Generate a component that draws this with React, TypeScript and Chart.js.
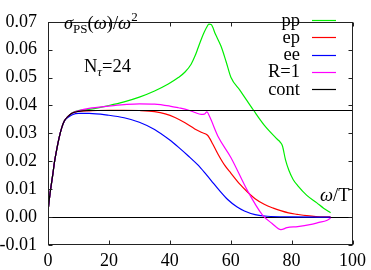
import React, { useEffect, useRef } from 'react';
import { Chart, registerables } from 'chart.js';

Chart.register(...registerables);

const FONT = "'Liberation Serif', 'Times New Roman', serif";

// common low-omega rise (all curves coincide here)
const riseOmega = [0.1, 0.5, 1, 1.6, 2.1, 3, 3.7, 4.5, 5.4];
const riseValues = [0.003, 0.007, 0.011, 0.0155, 0.0195, 0.025, 0.0287, 0.032, 0.0345];

const ppOmega = [6.5, 8, 10, 13.5, 20, 25, 30, 35, 39.5, 42.8, 45, 47, 48.3, 49.3, 50.5, 51.4, 52.3, 52.8, 53.6, 55, 56.8, 58.5, 60.1, 63, 65, 67.5, 71, 75.3, 76.3, 77, 78, 79.1, 80.5, 82, 85, 88.3, 90.5, 92.8];
const ppValues = [0.036, 0.0374, 0.0382, 0.0386, 0.04, 0.0413, 0.043, 0.0452, 0.0477, 0.05, 0.052, 0.0548, 0.0578, 0.0607, 0.0642, 0.0665, 0.0684, 0.0692, 0.069, 0.0655, 0.0613, 0.0557, 0.05, 0.0455, 0.0423, 0.0383, 0.033, 0.0279, 0.0268, 0.0255, 0.0205, 0.0168, 0.0135, 0.0113, 0.0078, 0.0051, 0.0032, 0.0016];

const epOmega = [6.5, 8, 10, 13.5, 20, 25, 30, 35, 38.5, 41.7, 45, 48.2, 50.5, 52.3, 53, 54.1, 55.8, 58, 60.1, 63, 65.5, 68, 71, 74, 76.4, 79, 81.8, 85, 88, 92.8];
const epValues = [0.036, 0.0373, 0.0379, 0.0381, 0.0383, 0.0383, 0.0382, 0.0378, 0.037, 0.0357, 0.0338, 0.0316, 0.0303, 0.0294, 0.0284, 0.0262, 0.0226, 0.0186, 0.0157, 0.0118, 0.009, 0.0066, 0.0046, 0.0032, 0.0023, 0.0015, 0.001, 0.0005, 0.0002, 0.0001];

const eeOmega = [6.5, 8, 10, 13.5, 20, 25, 30, 35, 40, 43, 46, 49.3, 52, 53.6, 56, 59, 62, 64.5, 68, 72, 80, 92.8];
const eeValues = [0.0357, 0.0367, 0.0372, 0.0372, 0.0365, 0.0356, 0.034, 0.0314, 0.0276, 0.0249, 0.022, 0.0186, 0.0152, 0.0131, 0.0099, 0.0063, 0.0037, 0.0022, 0.0009, 0.0003, 0.0001, 0.0];

const r1Omega = [6.5, 8, 10, 13.5, 20, 25, 30, 35, 40, 42.8, 46, 48, 50.3, 51.3, 52.2, 53, 55.8, 60.1, 65.5, 70.4, 73.5, 76.5, 78.5, 82, 86, 89, 91.5, 92.8];
const r1Values = [0.036, 0.0373, 0.0381, 0.039, 0.0398, 0.0403, 0.0406, 0.0405, 0.0398, 0.0392, 0.0384, 0.0376, 0.0368, 0.0369, 0.0377, 0.0362, 0.029, 0.0213, 0.0095, 0.0008, -0.0022, -0.0045, -0.0038, -0.0034, -0.0027, -0.0019, -0.0012, -0.0004];

const contOmega = [6.5, 8, 10, 13.5, 20, 100];
const contValues = [0.036, 0.0373, 0.0379, 0.0382, 0.0382, 0.0382];

const seriesLabels = ['pp', 'ep', 'ee', 'R=1', 'cont'];
const seriesColors = ['#00ee00', '#ff0000', '#0000ff', '#ff00ff', '#000000'];

const xTicks = [0, 20, 40, 60, 80, 100];
const yTicks = [-0.01, 0, 0.01, 0.02, 0.03, 0.04, 0.05, 0.06, 0.07];

function pts(om: number[], vals: number[]) {
  const xs = riseOmega.concat(om);
  const ys = riseValues.concat(vals);
  return xs.map((x, i) => ({ x, y: ys[i] }));
}

type Run = { t: string; size?: number; italic?: boolean; dy?: number };

function drawRuns(ctx: CanvasRenderingContext2D, x: number, base: number, runs: Run[]) {
  let cx = x;
  for (const r of runs) {
    const size = r.size ?? 18.5;
    ctx.font = `${r.italic ? 'italic ' : ''}${size}px ${FONT}`;
    ctx.textAlign = 'left';
    ctx.textBaseline = 'alphabetic';
    ctx.fillText(r.t, cx, base + (r.dy ?? 0));
    cx += ctx.measureText(r.t).width;
  }
}

const overlay = {
  id: 'overlay',
  beforeDatasetsDraw(chart: any) {
    const { ctx, chartArea, scales } = chart;
    const y0 = Math.round(scales.y.getPixelForValue(0)) + 0.5;
    ctx.save();
    ctx.strokeStyle = '#000';
    ctx.lineWidth = 1;
    ctx.beginPath();
    ctx.moveTo(chartArea.left, y0);
    ctx.lineTo(chartArea.right, y0);
    ctx.stroke();
    ctx.restore();
  },
  afterDraw(chart: any) {
    const { ctx, chartArea, scales } = chart;
    const L = Math.round(chartArea.left) + 0.5;
    const R = Math.round(chartArea.right) - 0.5;
    const T = Math.round(chartArea.top) + 0.5;
    const B = Math.round(chartArea.bottom) - 0.5;
    ctx.save();
    ctx.strokeStyle = '#222';
    ctx.lineWidth = 1;
    ctx.strokeRect(L, T, R - L, B - T);
    ctx.beginPath();
    for (const v of xTicks) {
      const px = Math.round(scales.x.getPixelForValue(v)) + 0.5;
      ctx.moveTo(px, B); ctx.lineTo(px, B - 4);
      ctx.moveTo(px, T); ctx.lineTo(px, T + 4);
    }
    for (const v of yTicks) {
      const py = Math.round(scales.y.getPixelForValue(v)) + 0.5;
      ctx.moveTo(L, py); ctx.lineTo(L + 4, py);
      ctx.moveTo(R, py); ctx.lineTo(R - 4, py);
    }
    ctx.stroke();

    // legend
    ctx.fillStyle = '#000';
    seriesLabels.forEach((lab, i) => {
      const ly = 20 + i * 17.3;
      ctx.font = `18.5px ${FONT}`;
      ctx.textAlign = 'right';
      ctx.textBaseline = 'alphabetic';
      ctx.fillText(lab, 300, ly + 5.5);
      ctx.strokeStyle = seriesColors[i];
      ctx.lineWidth = 1.2;
      ctx.beginPath();
      ctx.moveTo(312, Math.round(ly) + 0.5);
      ctx.lineTo(336, Math.round(ly) + 0.5);
      ctx.stroke();
    });

    // annotations
    ctx.fillStyle = '#000';
    drawRuns(ctx, 64, 29, [
      { t: 'σ', italic: true },
      { t: 'PS', size: 13, dy: 4 },
      { t: '(' },
      { t: 'ω', italic: true },
      { t: ')/' },
      { t: 'ω', italic: true },
      { t: '2', size: 13, dy: -8 },
    ]);
    drawRuns(ctx, 84, 72, [
      { t: 'N' },
      { t: 'τ', italic: true, size: 13, dy: 4 },
      { t: '=24' },
    ]);
    drawRuns(ctx, 320, 201, [
      { t: 'ω', italic: true },
      { t: '/T' },
    ]);
    ctx.restore();
  },
};

export default function App() {
  const ref = useRef<HTMLCanvasElement | null>(null);
  useEffect(() => {
    if (!ref.current) return;
    const data = [
      pts(ppOmega, ppValues),
      pts(epOmega, epValues),
      pts(eeOmega, eeValues),
      pts(r1Omega, r1Values),
      pts(contOmega, contValues),
    ];
    const chart = new Chart(ref.current, {
      type: 'line',
      data: {
        datasets: data.map((d, i) => ({
          label: seriesLabels[i],
          data: d,
          borderColor: seriesColors[i],
          backgroundColor: seriesColors[i],
          borderWidth: 1.2,
          pointRadius: 0,
          cubicInterpolationMode: 'monotone' as const,
          fill: false,
          order: 4 - i,
        })),
      },
      options: {
        animation: false,
        responsive: false,
        devicePixelRatio: 1,
        layout: { padding: { left: 0, top: 7, right: 14, bottom: 0 } },
        plugins: { legend: { display: false }, tooltip: { enabled: false } },
        scales: {
          x: {
            type: 'linear',
            min: 0,
            max: 100,
            grid: { display: false, drawTicks: false },
            border: { display: false },
            ticks: {
              stepSize: 20,
              color: '#000',
              padding: 5,
              maxRotation: 0,
              font: { family: FONT, size: 18 },
            },
            afterFit: (s: any) => { s.height = 25; },
          },
          y: {
            type: 'linear',
            min: -0.01,
            max: 0.07,
            grid: { display: false, drawTicks: false },
            border: { display: false },
            ticks: {
              stepSize: 0.01,
              color: '#000',
              padding: 11,
              autoSkip: false,
              font: { family: FONT, size: 18 },
              callback: (v: any) => Number(v).toFixed(2),
            },
            afterFit: (s: any) => { s.width = 48; },
          },
        },
      },
      plugins: [overlay],
    });
    return () => chart.destroy();
  }, []);
  return (
    <div style={{ position: 'absolute', left: 0, top: 0, width: 371, height: 270, background: '#fff' }}>
      <canvas ref={ref} width={371} height={270} style={{ display: 'block' }} />
    </div>
  );
}
